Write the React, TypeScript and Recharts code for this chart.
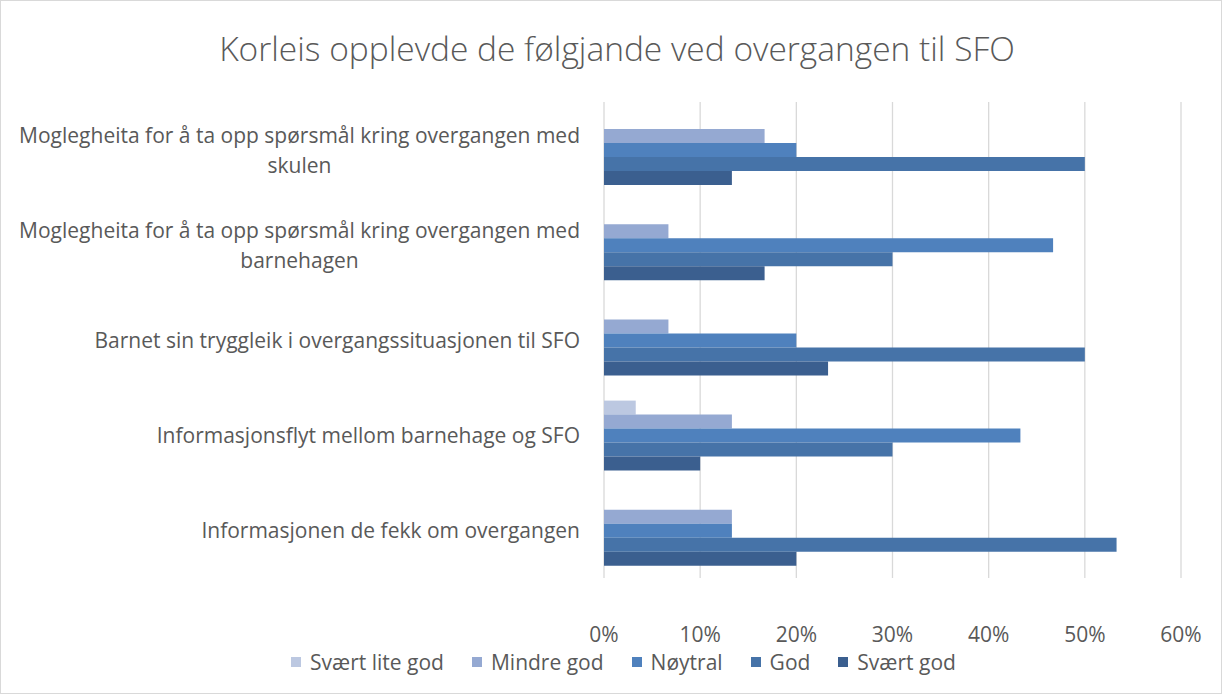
import React from "react";
import {
  BarChart,
  Bar,
  XAxis,
  YAxis,
  CartesianGrid,
  Legend,
} from "recharts";

const categories = [
  "Moglegheita for å ta opp spørsmål kring overgangen med skulen",
  "Moglegheita for å ta opp spørsmål kring overgangen med barnehagen",
  "Barnet sin tryggleik i overgangssituasjonen til SFO",
  "Informasjonsflyt mellom barnehage og SFO",
  "Informasjonen de fekk om overgangen",
];

// percent per answer option, same order as categories (top to bottom)
const svaertLiteGod = [0, 0, 0, 3.3, 0];
const mindreGod = [16.7, 6.7, 6.7, 13.3, 13.3];
const noytral = [20, 46.7, 20, 43.3, 13.3];
const god = [50, 30, 50, 30, 53.3];
const svaertGod = [13.3, 16.7, 23.3, 10, 20];

const xTicks = [0, 10, 20, 30, 40, 50, 60];

const seriesNames = ["Svært lite god", "Mindre god", "Nøytral", "God", "Svært god"];
const seriesValues = [svaertLiteGod, mindreGod, noytral, god, svaertGod];
const COLORS = ["#BCC8E1", "#95A9D2", "#4F81BD", "#4673A8", "#3B5F8F"];

const FONT = "'Open Sans', sans-serif";
const TEXT = "#595959";
const FS = 21;

const data = categories.map((name, i) => {
  const row: Record<string, string | number> = { name };
  seriesNames.forEach((s, j) => {
    row[s] = seriesValues[j][i];
  });
  return row;
});

let ctx: CanvasRenderingContext2D | null = null;
const measure = (txt: string) => {
  if (!ctx) {
    ctx = document.createElement("canvas").getContext("2d");
  }
  if (!ctx) return txt.length * 10;
  ctx.font = `${FS}px ${FONT}`;
  return ctx.measureText(txt).width;
};

const wrap = (txt: string, maxW: number) => {
  const words = txt.split(" ");
  const lines: string[] = [];
  let cur = "";
  words.forEach((w) => {
    const next = cur ? cur + " " + w : w;
    if (cur && measure(next) > maxW) {
      lines.push(cur);
      cur = w;
    } else {
      cur = next;
    }
  });
  if (cur) lines.push(cur);
  return lines;
};

const CategoryTick = (props: any) => {
  const { x, y, payload } = props;
  const lines = wrap(payload.value, 578);
  const lh = 30;
  const top = y - ((lines.length - 1) * lh) / 2;
  if (lines.length === 1) {
    return (
      <text x={x} y={y} textAnchor="end" dominantBaseline="central" fill={TEXT} fontSize={FS} fontFamily={FONT}>
        {lines[0]}
      </text>
    );
  }
  const w = Math.max(...lines.map(measure));
  const cx = x - w / 2;
  return (
    <text textAnchor="middle" fill={TEXT} fontSize={FS} fontFamily={FONT}>
      {lines.map((l, i) => (
        <tspan key={i} x={cx} y={top + i * lh} dominantBaseline="central">
          {l}
        </tspan>
      ))}
    </text>
  );
};

const LegendContent = () => (
  <div
    style={{
      display: "flex",
      justifyContent: "center",
      alignItems: "center",
      gap: 28,
      height: 50,
      paddingTop: 6,
      paddingLeft: 66,
      fontFamily: FONT,
      fontSize: FS,
      color: TEXT,
      boxSizing: "border-box",
    }}
  >
    {seriesNames.map((s, i) => (
      <span key={s} style={{ display: "flex", alignItems: "center" }}>
        <span style={{ width: 10, height: 10, background: COLORS[i], marginRight: 9 }} />
        {s}
      </span>
    ))}
  </div>
);

export default function App() {
  return (
    <div
      style={{
        position: "absolute",
        left: 0,
        top: 0,
        width: 1222,
        height: 694,
        background: "#fff",
        outline: "1px solid #D9D9D9",
        outlineOffset: -1,
      }}
    >
      <div
        style={{
          position: "absolute",
          top: 26,
          left: 6,
          width: 1222,
          textAlign: "center",
          fontFamily: FONT,
          fontWeight: 300,
          fontSize: 33.5,
          lineHeight: "44px",
          color: TEXT,
        }}
      >
        Korleis opplevde de følgjande ved overgangen til SFO
      </div>
      <BarChart
        width={1222}
        height={694}
        data={data}
        layout="vertical"
        margin={{ top: 102, right: 41, bottom: 10, left: 0 }}
        barGap={0}
        barSize={14}
      >
        <CartesianGrid horizontal={false} stroke="#D9D9D9" strokeWidth={1.3} />
        <XAxis
          type="number"
          domain={[0, 60]}
          ticks={xTicks}
          tickFormatter={(v: number) => `${v}%`}
          axisLine={false}
          tickLine={false}
          tickMargin={43}
          height={56}
          tick={{ fill: TEXT, fontSize: FS, fontFamily: FONT }}
        />
        <YAxis
          type="category"
          dataKey="name"
          width={604}
          axisLine={false}
          tickLine={false}
          tickMargin={18}
          tick={<CategoryTick />}
          interval={0}
        />
        <Legend verticalAlign="bottom" content={<LegendContent />} height={50} />
        {seriesNames.map((s, i) => (
          <Bar key={s} dataKey={s} fill={COLORS[i]} isAnimationActive={false} />
        ))}
      </BarChart>
    </div>
  );
}
